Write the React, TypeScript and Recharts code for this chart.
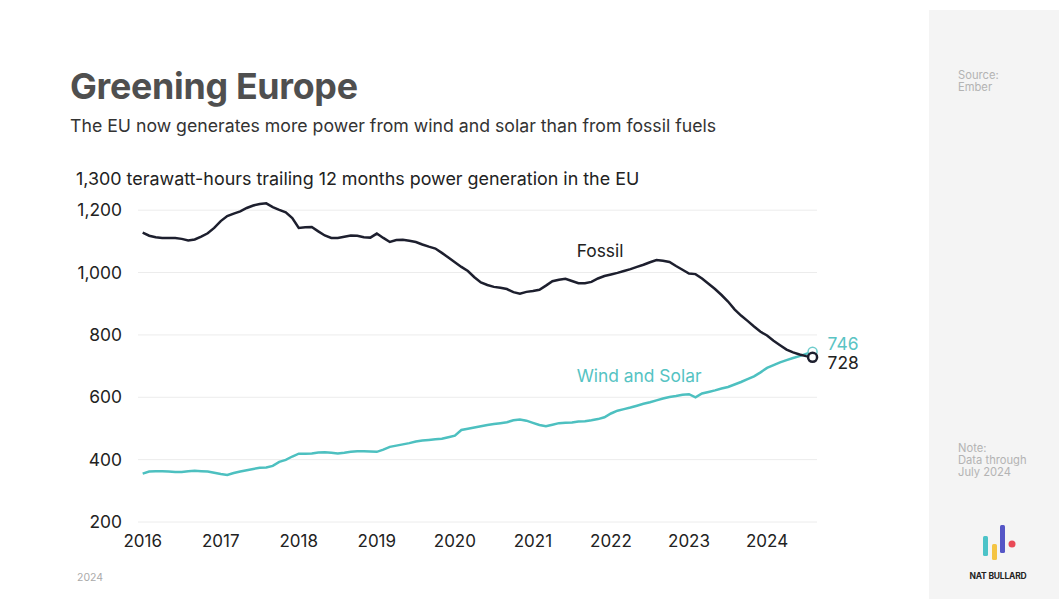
import React from 'react'
import { LineChart, Line, XAxis, YAxis, ReferenceLine, ReferenceDot } from 'recharts'

// trailing 12-month generation, TWh, monthly from Jan 2016
const START_YEAR = 2016

const fossil = [
  1128, 1118, 1113, 1111, 1111, 1111, 1108, 1103, 1106, 1115, 1126, 1143,
  1165, 1181, 1189, 1196, 1207, 1215, 1220, 1222, 1210, 1201, 1193, 1175,
  1143, 1145, 1146, 1132, 1119, 1111, 1111, 1115, 1119, 1118, 1113, 1112,
  1125, 1111, 1098, 1104, 1105, 1102, 1098, 1090, 1083, 1077, 1063, 1048,
  1033, 1018, 1005, 985, 968, 960, 954, 951, 947, 937, 932, 938,
  941, 945, 958, 972, 977, 980, 973, 966, 966, 970, 981, 989,
  994, 999, 1005, 1011, 1018, 1025, 1033, 1040, 1038, 1034, 1021, 1009,
  997, 995, 981, 964, 947, 928, 907, 882, 862, 845, 827, 810,
  798, 781, 767, 753, 744, 737, 732, 728,
]

const windSolar = [
  355, 362, 363, 363, 362, 360, 360, 363, 364, 363, 362, 358,
  354, 351, 357, 362, 366, 370, 374, 375, 380, 393, 399, 410,
  419, 419, 420, 423, 424, 422, 420, 422, 425, 427, 427, 426,
  425, 432, 441, 445, 449, 453, 458, 461, 463, 465, 467, 472,
  477, 495, 499, 503, 507, 511, 514, 517, 520, 526, 529, 525,
  518, 511, 507, 512, 517, 518, 519, 522, 523, 526, 530, 536,
  548, 557, 562, 567, 573, 579, 584, 590, 596, 601, 604, 608,
  610, 600, 612, 617, 622, 628, 633, 641, 649, 658, 667, 680,
  694, 703, 712, 719, 726, 732, 739, 746,
]

const yearTicks = [2016, 2017, 2018, 2019, 2020, 2021, 2022, 2023, 2024]
const valueTicks = [200, 400, 600, 800, 1000, 1200, 1300]
const gridValues = [200, 400, 600, 800, 1000, 1200]

const FOSSIL = '#1d1f2e'
const TEAL = '#4dc0c0'
const FONT = 'Inter, "Noto Sans", sans-serif'
const TEXT_SIZE = 17.4

const data = fossil.map((f, i) => ({
  t: START_YEAR + i / 12,
  fossil: f,
  windSolar: windSolar[i],
}))
const lastIndex = data.length - 1

const YTick = (props: any) => {
  const { x, y, payload } = props
  if (payload.value === 1300) {
    return (
      <text x={x - 46} y={y} dy="0.35em" textAnchor="start" fill="#222" fontSize={17.9} fontFamily={FONT}>
        1,300 terawatt-hours trailing 12 months power generation in the EU
      </text>
    )
  }
  return (
    <text x={x} y={y} dy="0.35em" textAnchor="end" fill="#222" fontSize={TEXT_SIZE} fontFamily={FONT}>
      {payload.value.toLocaleString('en-US')}
    </text>
  )
}

const endDot = (key: string, stroke: string, width: number, labelColor: string, labelDy: number) => (props: any) => {
  const { cx, cy, index, payload } = props
  if (index !== lastIndex) return <g key={`d-${key}-${index}`} />
  return (
    <g key={`d-${key}-${index}`}>
      <circle cx={cx} cy={cy} r={4.5} fill="#fff" stroke={stroke} strokeWidth={width} />
      <text x={cx + 15} y={cy + labelDy} dy="0.35em" fill={labelColor} fontSize={TEXT_SIZE} fontFamily={FONT}>
        {payload[key]}
      </text>
    </g>
  )
}

const seriesLabel = (text: string, color: string) => (props: any) => (
  <text x={props.cx} y={props.cy} dy="0.35em" textAnchor="middle" fill={color} fontSize={TEXT_SIZE} fontFamily={FONT}>
    {text}
  </text>
)

const sideText: React.CSSProperties = {
  position: 'absolute',
  left: 958,
  fontSize: 11.2,
  lineHeight: '12px',
  color: '#b3b3b3',
  fontFamily: FONT,
}

export default function App() {
  return (
    <div style={{ position: 'absolute', left: 0, top: 0, width: 1059, height: 599, background: '#fff', fontFamily: FONT, overflow: 'hidden' }}>
      <div style={{ position: 'absolute', left: 929, top: 10, width: 130, height: 589, background: '#f4f4f4' }} />

      <div style={{ position: 'absolute', left: 70, top: 64, fontSize: 35.8, fontWeight: 700, color: '#4f4f4f', letterSpacing: -0.3 }}>
        Greening Europe
      </div>
      <div style={{ position: 'absolute', left: 70, top: 115, fontSize: 17.7, color: '#333' }}>
        The EU now generates more power from wind and solar than from fossil fuels
      </div>

      <div style={{ position: 'absolute', left: 0, top: 0 }}>
        <LineChart width={1059} height={599} data={data} margin={{ top: 179, right: 242, bottom: 47, left: 78 }}>
          <XAxis
            dataKey="t"
            type="number"
            domain={[2015.94, 2024.64]}
            ticks={yearTicks}
            axisLine={false}
            tickLine={false}
            tickSize={0}
            tickMargin={13}
            height={30}
            tick={{ fill: '#222', fontSize: 17, fontFamily: FONT }}
          />
          <YAxis
            type="number"
            domain={[200, 1300]}
            ticks={valueTicks}
            axisLine={false}
            tickLine={false}
            tickSize={0}
            tickMargin={16}
            width={60}
            tick={<YTick />}
          />
          {gridValues.map((v) => (
            <ReferenceLine key={v} y={v} stroke="#ececec" strokeWidth={1} />
          ))}
          <Line
            dataKey="windSolar"
            stroke={TEAL}
            strokeWidth={2.5}
            dot={endDot('windSolar', '#6fcccc', 1.5, '#5ac4c4', -8)}
            activeDot={false}
            isAnimationActive={false}
          />
          <Line
            dataKey="fossil"
            stroke={FOSSIL}
            strokeWidth={2.5}
            dot={endDot('fossil', FOSSIL, 2.5, '#222', 6)}
            activeDot={false}
            isAnimationActive={false}
          />
          <ReferenceDot x={2021.86} y={1068} r={0} shape={seriesLabel('Fossil', '#222')} />
          <ReferenceDot x={2022.36} y={667} r={0} shape={seriesLabel('Wind and Solar', '#55c3c3')} />
        </LineChart>
      </div>

      <div style={{ position: 'absolute', left: 77, top: 571, fontSize: 10.5, color: '#aaa' }}>2024</div>

      <div style={{ ...sideText, top: 69 }}>
        Source:
        <br />
        Ember
      </div>
      <div style={{ ...sideText, top: 442 }}>
        Note:
        <br />
        Data through
        <br />
        July 2024
      </div>

      <svg style={{ position: 'absolute', left: 975, top: 520 }} width={50} height={45}>
        <rect x={8} y={16} width={5} height={20} rx={1.5} fill="#4cc3c8" />
        <rect x={17} y={24} width={5} height={16} rx={1.5} fill="#f4c443" />
        <rect x={25} y={5} width={5} height={28} rx={1.5} fill="#5556c6" />
        <circle cx={37} cy={24} r={3.5} fill="#e94a57" />
      </svg>
      <div style={{ position: 'absolute', left: 963, top: 571, width: 70, textAlign: 'center', fontSize: 8.5, fontWeight: 700, color: '#222', letterSpacing: -0.2 }}>
        NAT BULLARD
      </div>
    </div>
  )
}
